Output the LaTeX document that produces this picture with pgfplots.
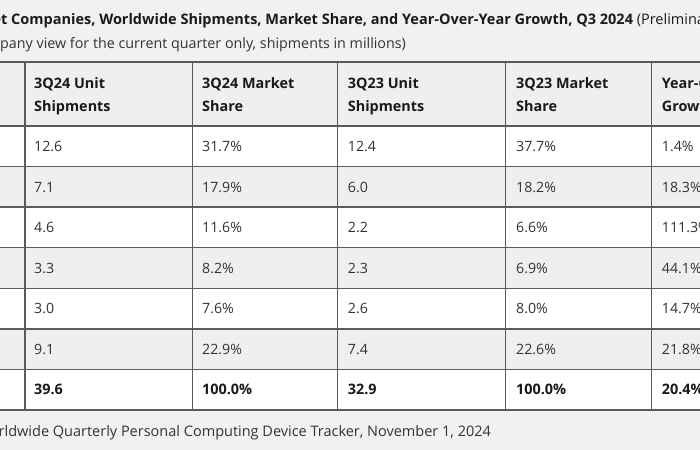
\documentclass[border=0pt]{standalone}
\usepackage{pgfplots}
\pgfplotsset{compat=1.18}
\usepackage{pgfplotstable}
\usepackage{fontspec}
\setmainfont{Open Sans}
\definecolor{bg}{HTML}{F1F1F1}
\definecolor{rowgray}{HTML}{EFEFEF}
\definecolor{gridc}{HTML}{5A5A5A}
\definecolor{txt}{HTML}{333333}
\definecolor{hdr}{HTML}{1A1A1A}
\newcommand{\bodyfont}{\fontsize{14.2bp}{17bp}\selectfont}
\newcommand{\hdrfont}{\fontsize{14.4bp}{17bp}\selectfont\bfseries}
\newcommand{\titlefont}{\fontsize{14.5bp}{18bp}\selectfont}
\newcommand{\subfont}{\fontsize{14.3bp}{18bp}\selectfont}

\pgfplotstableread{
row a b c d e
1 12.6 31.7 12.4 37.7 1.4
2 7.1 17.9 6.0 18.2 18.3
3 4.6 11.6 2.2 6.6 111.3
4 3.3 8.2 2.3 6.9 44.1
5 3.0 7.6 2.6 8.0 14.7
6 9.1 22.9 7.4 22.6 21.8
}\rows
\pgfplotstableread{
row a b c d e
7 39.6 100.0 32.9 100.0 20.4
}\total

\pgfplotsset{
  cell/.style={only marks, mark=*, mark size=0pt, mark options={draw=none,fill=none},
    point meta=explicit symbolic, nodes near coords,
    every node near coord/.append style={anchor=base west, inner sep=0pt, font=\bodyfont, text=txt}},
  pct/.style={nodes near coords={\pgfplotspointmeta\%}},
  bold/.style={every node near coord/.append style={font=\hdrfont, text=hdr}},
}
\tikzset{
  hl/.style={gridc, line width=1.3bp},
  hd/.style={anchor=base west, inner sep=0pt, font=\hdrfont, text=hdr},
}

\begin{document}
\begin{tikzpicture}[x=1bp,y=1bp]
\useasboundingbox (0,0) rectangle (700,450);
\clip (0,0) rectangle (700,450);
\fill[bg] (0,0) rectangle (700,450);
\begin{axis}[at={(0,0)}, anchor=south west, scale only axis,
  width=700bp, height=450bp, xmin=0, xmax=700, ymin=0, ymax=450,
  y dir=reverse, hide axis, clip=false]
% row backgrounds
\fill[rowgray] (axis cs:-10,62) rectangle (axis cs:710,126);
\fill[white] (axis cs:-10,126) rectangle (axis cs:710,166.6);
\fill[rowgray] (axis cs:-10,166.6) rectangle (axis cs:710,207.1);
\fill[white] (axis cs:-10,207.1) rectangle (axis cs:710,247.7);
\fill[rowgray] (axis cs:-10,247.7) rectangle (axis cs:710,288.3);
\fill[white] (axis cs:-10,288.3) rectangle (axis cs:710,328.9);
\fill[rowgray] (axis cs:-10,328.9) rectangle (axis cs:710,369.4);
\fill[white] (axis cs:-10,369.4) rectangle (axis cs:710,410);
% grid lines
\draw[hl] (axis cs:-10,62) -- (axis cs:710,62);
\draw[hl] (axis cs:-10,126) -- (axis cs:710,126);
\draw[hl] (axis cs:-10,166.6) -- (axis cs:710,166.6);
\draw[hl] (axis cs:-10,207.1) -- (axis cs:710,207.1);
\draw[hl] (axis cs:-10,247.7) -- (axis cs:710,247.7);
\draw[hl] (axis cs:-10,288.3) -- (axis cs:710,288.3);
\draw[hl] (axis cs:-10,328.9) -- (axis cs:710,328.9);
\draw[hl] (axis cs:-10,369.4) -- (axis cs:710,369.4);
\draw[hl] (axis cs:-10,410) -- (axis cs:710,410);
\draw[hl] (axis cs:25,62) -- (axis cs:25,410);
\draw[hl] (axis cs:192.3,62) -- (axis cs:192.3,410);
\draw[hl] (axis cs:337.7,62) -- (axis cs:337.7,410);
\draw[hl] (axis cs:505.7,62) -- (axis cs:505.7,410);
\draw[hl] (axis cs:651.5,62) -- (axis cs:651.5,410);
% title, subtitle, footer
\node[anchor=base west, inner sep=0pt, font=\titlefont\bfseries, text=hdr] at (axis cs:11,24.3)
  {\llap{IDC Top 5 Tablet }Companies, Worldwide Shipments, Market Share, and Year-Over-Year Growth, Q3 2024 {\mdseries (Preliminary results, combined}};
\node[anchor=base west, inner sep=0pt, font=\subfont, text=txt] at (axis cs:0,48.8)
  {\llap{com}pany view for the current quarter only, shipments in millions)};
\node[anchor=base west, inner sep=0pt, font=\titlefont, text=txt] at (axis cs:-1.5,436)
  {\llap{Source: IDC Wo}rldwide Quarterly Personal Computing Device Tracker, November 1, 2024};
% headers
\node[hd] at (axis cs:34,88.3) {3Q24 Unit};
\node[hd] at (axis cs:34,111.7) {Shipments};
\node[hd] at (axis cs:202,88.3) {3Q24 Market};
\node[hd] at (axis cs:202,111.7) {Share};
\node[hd] at (axis cs:347.7,88.3) {3Q23 Unit};
\node[hd] at (axis cs:347.7,111.7) {Shipments};
\node[hd] at (axis cs:516,88.3) {3Q23 Market};
\node[hd] at (axis cs:516,111.7) {Share};
\node[hd] at (axis cs:661.7,88.3) {Year-Over-Year};
\node[hd] at (axis cs:661.7,111.7) {Growth};
% data cells
\addplot[cell] table[x expr=34, y expr=151.5+(\thisrow{row}-1)*40.57, meta=a] {\rows};
\addplot[cell,pct] table[x expr=202, y expr=151.5+(\thisrow{row}-1)*40.57, meta=b] {\rows};
\addplot[cell] table[x expr=347.7, y expr=151.5+(\thisrow{row}-1)*40.57, meta=c] {\rows};
\addplot[cell,pct] table[x expr=516, y expr=151.5+(\thisrow{row}-1)*40.57, meta=d] {\rows};
\addplot[cell,pct] table[x expr=661.7, y expr=151.5+(\thisrow{row}-1)*40.57, meta=e] {\rows};
\addplot[cell,bold] table[x expr=34, y expr=151.5+(\thisrow{row}-1)*40.57, meta=a] {\total};
\addplot[cell,pct,bold] table[x expr=202, y expr=151.5+(\thisrow{row}-1)*40.57, meta=b] {\total};
\addplot[cell,bold] table[x expr=347.7, y expr=151.5+(\thisrow{row}-1)*40.57, meta=c] {\total};
\addplot[cell,pct,bold] table[x expr=516, y expr=151.5+(\thisrow{row}-1)*40.57, meta=d] {\total};
\addplot[cell,pct,bold] table[x expr=661.7, y expr=151.5+(\thisrow{row}-1)*40.57, meta=e] {\total};
\end{axis}
\end{tikzpicture}
\end{document}
